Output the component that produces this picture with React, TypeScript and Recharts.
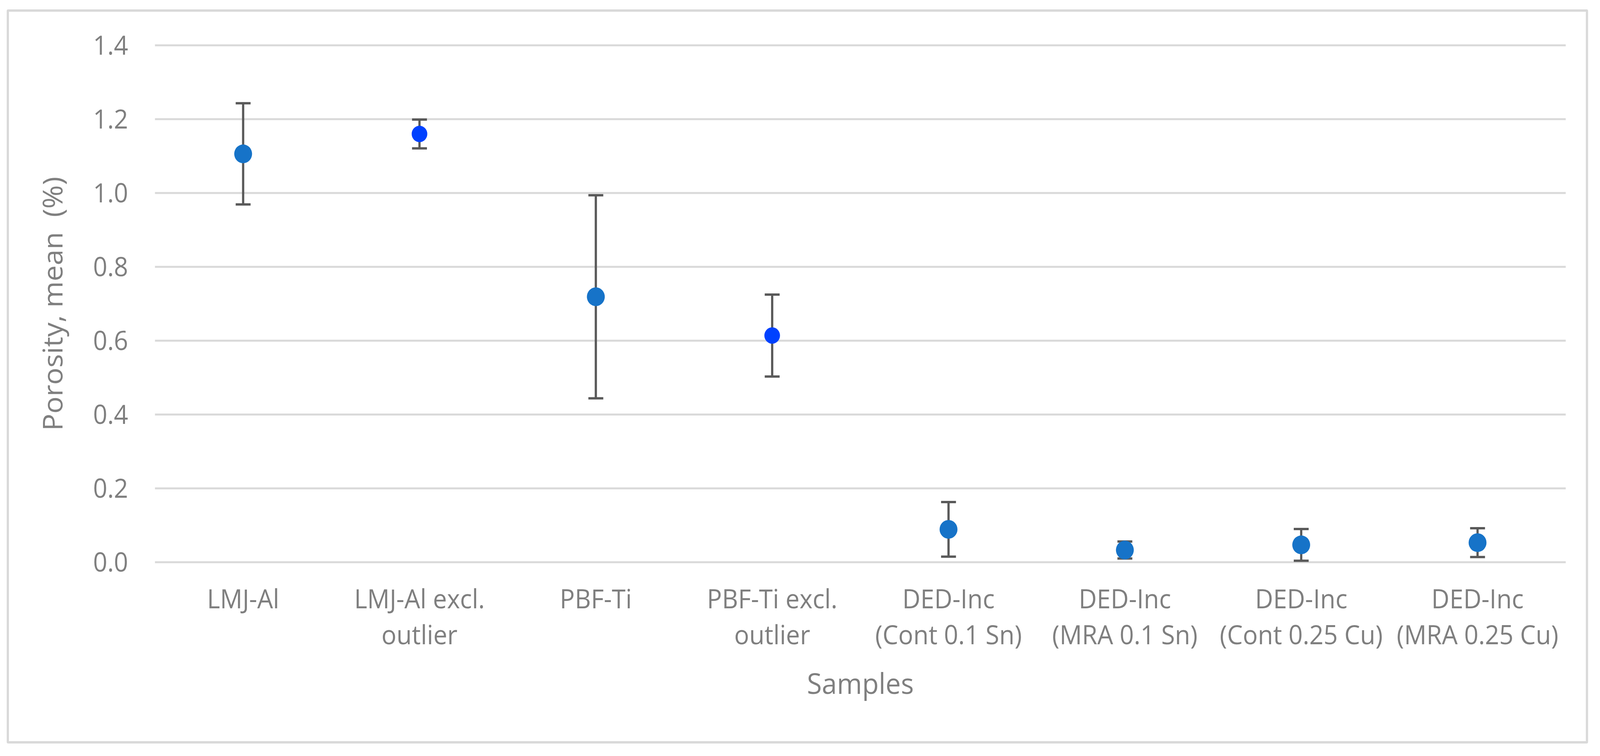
import React from 'react';
import { ScatterChart, Scatter, XAxis, YAxis, CartesianGrid, ErrorBar } from 'recharts';

const categories = [
  'LMJ-Al',
  'LMJ-Al excl.\noutlier',
  'PBF-Ti',
  'PBF-Ti excl.\noutlier',
  'DED-Inc\n(Cont 0.1 Sn)',
  'DED-Inc\n(MRA 0.1 Sn)',
  'DED-Inc\n(Cont 0.25 Cu)',
  'DED-Inc\n(MRA 0.25 Cu)',
];
const means = [1.106, 1.16, 0.719, 0.614, 0.089, 0.033, 0.047, 0.053];
const errors = [0.137, 0.039, 0.275, 0.111, 0.074, 0.023, 0.043, 0.039];
const excludesOutlier = [false, true, false, true, false, false, false, false];
const yTicks = [0, 0.2, 0.4, 0.6, 0.8, 1.0, 1.2, 1.4];

const data = categories.map((name, i) => ({ name, mean: means[i], err: errors[i], excl: excludesOutlier[i] }));

const DESIGN_W = 4295;
const DESIGN_H = 1935;
const FONT = '"Open Sans", Roboto, sans-serif';
const TEXT = '#7f7f7f';
const BASE_COLOR = '#1673c8';
const EXCL_COLOR = '#0041ff';

const CategoryTick = (props: any) => {
  const { x, y, payload } = props;
  const lines = String(payload.value).split('\n');
  return (
    <text x={x} y={y} textAnchor="middle" fill={TEXT} fontSize={67} fontFamily={FONT}>
      {lines.map((l, i) => (
        <tspan key={i} x={x} dy={i === 0 ? 118 : 92}>{l}</tspan>
      ))}
    </text>
  );
};

const Dot = (props: any) => {
  const { cx, cy, payload } = props;
  const r = payload.excl ? 21 : 24;
  return <circle cx={cx} cy={cy} r={r} fill={payload.excl ? EXCL_COLOR : BASE_COLOR} />;
};

const YTitle = (p: any) => {
  const vb = p.viewBox || { x: 216, y: 116, width: 200, height: 1323 };
  const x = vb.x - 48;
  const y = vb.y + vb.height / 2;
  return (
    <text
      x={x}
      y={y}
      transform={`rotate(-90, ${x}, ${y})`}
      textAnchor="middle"
      fill={TEXT}
      fontSize={73}
      fontFamily={FONT}
      style={{ whiteSpace: 'pre' }}
    >
      Porosity, mean  (%)
    </text>
  );
};

export default function App() {
  const vw = typeof window !== 'undefined' && window.innerWidth ? window.innerWidth : DESIGN_W;
  const vh = typeof window !== 'undefined' && window.innerHeight ? window.innerHeight : DESIGN_H;
  const sx = vw / DESIGN_W;
  const sy = vh / DESIGN_H;
  return (
    <div
      style={{
        position: 'fixed',
        left: 0,
        top: 0,
        width: DESIGN_W,
        height: DESIGN_H,
        background: '#fff',
        transform: `scale(${sx}, ${sy})`,
        transformOrigin: '0 0',
        overflow: 'hidden',
      }}
    >
      <div
        style={{
          position: 'absolute',
          left: 18,
          top: 24,
          width: 4245,
          height: 1879,
          border: '6px solid #d9d9d9',
          borderRadius: 4,
          boxSizing: 'border-box',
        }}
      />
      <div style={{ position: 'absolute', left: 0, top: 0 }}>
        <ScatterChart width={DESIGN_W} height={DESIGN_H} margin={{ top: 116, right: 92, bottom: 96, left: 216 }}>
          <CartesianGrid vertical={false} stroke="#d9d9d9" strokeWidth={5} />
          <XAxis
            dataKey="name"
            type="category"
            allowDuplicatedCategory={false}
            axisLine={false}
            tickLine={false}
            tickSize={0}
            tickMargin={0}
            height={400}
            interval={0}
            tick={<CategoryTick />}
            label={{ value: 'Samples', position: 'insideBottom', offset: 63, fill: TEXT, fontSize: 73, fontFamily: FONT }}
          />
          <YAxis
            dataKey="mean"
            type="number"
            domain={[0, 1.4]}
            ticks={yTicks}
            axisLine={false}
            tickLine={false}
            tickSize={0}
            tickMargin={72}
            width={200}
            tickFormatter={(v: number) => v.toFixed(1)}
            tick={{ fill: TEXT, fontSize: 67, fontFamily: FONT }}
            label={YTitle}
          />
          <Scatter data={data} dataKey="mean" shape={<Dot />} isAnimationActive={false}>
            <ErrorBar dataKey="err" direction="y" width={20} stroke="#595959" strokeWidth={6} />
          </Scatter>
        </ScatterChart>
      </div>
    </div>
  );
}
